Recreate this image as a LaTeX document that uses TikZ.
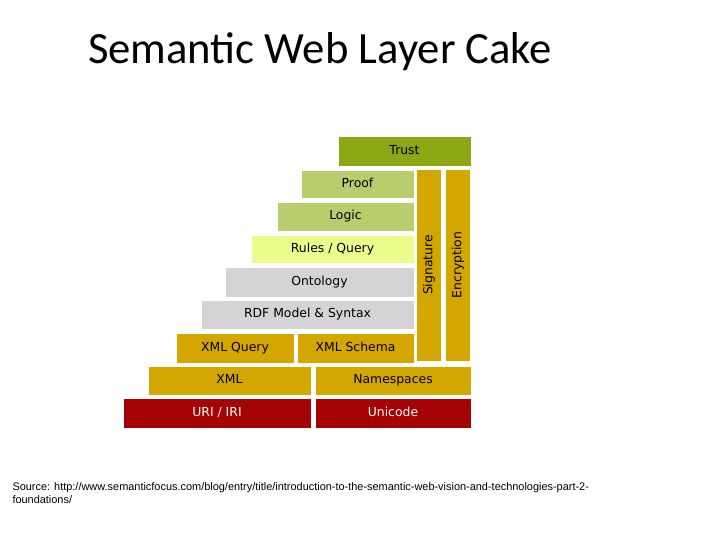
\documentclass[tikz,border=0pt]{standalone}
\usepackage{fontspec}
\setmainfont{Carlito}
\newfontfamily\layerfont{DejaVu Sans}
\newfontfamily\srcfont{Liberation Sans}
\definecolor{trustgreen}{RGB}{140,168,20}
\definecolor{logicgreen}{RGB}{184,206,110}
\definecolor{rulesyellow}{RGB}{236,252,140}
\definecolor{layergray}{RGB}{212,212,214}
\definecolor{layergold}{RGB}{212,166,0}
\definecolor{layerred}{RGB}{166,4,4}
\tikzset{every picture/.style={line width=0.75pt}}
\tikzset{layer/.style={anchor=north west,inner sep=0pt,text height=7pt,text depth=2pt,font=\layerfont\fontsize{9.3}{11}\selectfont,align=center}}
\begin{document}
\begin{tikzpicture}[x=0.75pt,y=0.75pt,yscale=-1,xscale=1]
\useasboundingbox (0,0) rectangle (720,540);

% Title
\node (title) at (320,52) {\fontsize{33.5}{38}\selectfont Semantic Web Layer Cake};

% Layers
\node (trust) [layer,fill=trustgreen,minimum width=99pt,minimum height=21.75pt] at (338,136) {Trust};
\node (proof) [layer,fill=logicgreen,minimum width=84pt,minimum height=20.25pt] at (301,170) {Proof};
\node (logic) [layer,fill=logicgreen,minimum width=102pt,minimum height=21pt] at (277,202) {Logic};
\node (rules) [layer,fill=rulesyellow,minimum width=121.5pt,minimum height=20.25pt] at (251,235) {Rules / Query};
\node (onto) [layer,fill=layergray,minimum width=141pt,minimum height=21.75pt] at (225,267) {Ontology};
\node (rdf) [layer,fill=layergray,minimum width=159pt,minimum height=21pt] at (201,300) {RDF Model \& Syntax};
\node (xmlq) [layer,fill=layergold,minimum width=87.75pt,minimum height=21.75pt] at (176,333) {XML Query};
\node (xmls) [layer,fill=layergold,minimum width=87pt,minimum height=21.75pt] at (297,333) {XML Schema};
\node (xml) [layer,fill=layergold,minimum width=121.5pt,minimum height=21pt] at (148,366) {XML};
\node (ns) [layer,fill=layergold,minimum width=116.25pt,minimum height=21pt] at (315,366) {Namespaces};
\node (uri) [layer,fill=layerred,text=white,minimum width=140.25pt,minimum height=21.75pt] at (123,398) {URI / IRI};
\node (uni) [layer,fill=layerred,text=white,minimum width=116.25pt,minimum height=21.75pt] at (315,398) {Unicode};

% Side columns
\draw [fill=layergold,draw=none] (417,170) rectangle (441,361);
\node (sig) [font=\layerfont\fontsize{9.3}{11}\selectfont,rotate=90] at (429,265) {Signature};
\draw [fill=layergold,draw=none] (446,170) rectangle (470,361);
\node (enc) [font=\layerfont\fontsize{9.3}{11}\selectfont,rotate=90] at (458,265) {Encryption};

% Source
\node (src) [anchor=north west,inner sep=0pt,align=left,font=\srcfont\fontsize{8.2}{10}\selectfont] at (12,482) {Source: http://www.semanticfocus.com/blog/entry/title/introduction-to-the-semantic-web-vision-and-technologies-part-2-\\foundations/};

\end{tikzpicture}
\end{document}
